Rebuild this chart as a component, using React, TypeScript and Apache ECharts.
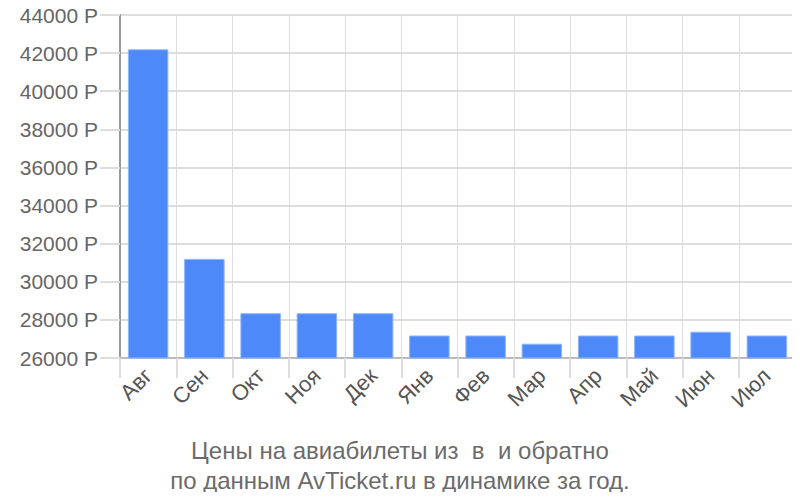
import React, { useEffect, useRef } from "react";
import * as echarts from "echarts";

const categories = ["Авг", "Сен", "Окт", "Ноя", "Дек", "Янв", "Фев", "Мар", "Апр", "Май", "Июн", "Июл"];
const prices = [42200, 31200, 28350, 28350, 28350, 27180, 27180, 26750, 27180, 27180, 27380, 27180];
const yMin = 26000;
const yMax = 44000;
const yStep = 2000;
const currency = "Р";
const titleLines = ["Цены на авиабилеты из  в  и обратно", "по данным AvTicket.ru в динамике за год."];

export default function App() {
  const ref = useRef<HTMLDivElement>(null);
  useEffect(() => {
    if (!ref.current) return;
    const chart = echarts.init(ref.current, null, { renderer: "svg" });
    const font = "'Liberation Sans', Arial, sans-serif";
    chart.setOption({
      animation: false,
      textStyle: { fontFamily: font },
      title: {
        text: titleLines.join("\n"),
        left: "center",
        top: 430,
        textStyle: { fontSize: 24, lineHeight: 30, color: "#6b6b6b", fontWeight: "normal", fontFamily: font },
      },
      grid: { left: 120, right: 5, top: 15, bottom: 142, containLabel: false },
      xAxis: {
        type: "category",
        data: categories,
        boundaryGap: true,
        axisLine: { show: true, lineStyle: { color: "#bbbbbb", width: 2 } },
        axisTick: { show: true, length: 20, alignWithLabel: false, lineStyle: { color: "#dddddd", width: 2 } },
        splitLine: { show: true, lineStyle: { color: "#dddddd", width: 1 } },
        axisLabel: { rotate: 45, fontSize: 22, color: "#555555", margin: 14, fontFamily: font, interval: 0 },
      },
      yAxis: {
        type: "value",
        min: yMin,
        max: yMax,
        interval: yStep,
        axisLine: { show: true, lineStyle: { color: "#999999", width: 2 } },
        axisTick: { show: true, length: 20, lineStyle: { color: "#dddddd", width: 2 } },
        splitLine: { show: true, lineStyle: { color: "#dddddd", width: 2 } },
        axisLabel: {
          fontSize: 21,
          color: "#666666",
          margin: 22,
          fontFamily: font,
          formatter: (v: number) => `${v} ${currency}`,
        },
      },
      series: [
        {
          type: "bar",
          data: prices,
          barCategoryGap: "28%",
          itemStyle: { color: "#4d89f9", borderColor: "#8fb4fb", borderWidth: 1 },
        },
      ],
    });
    return () => chart.dispose();
  }, []);
  return <div ref={ref} style={{ width: 800, height: 500, margin: -8 }} />;
}
